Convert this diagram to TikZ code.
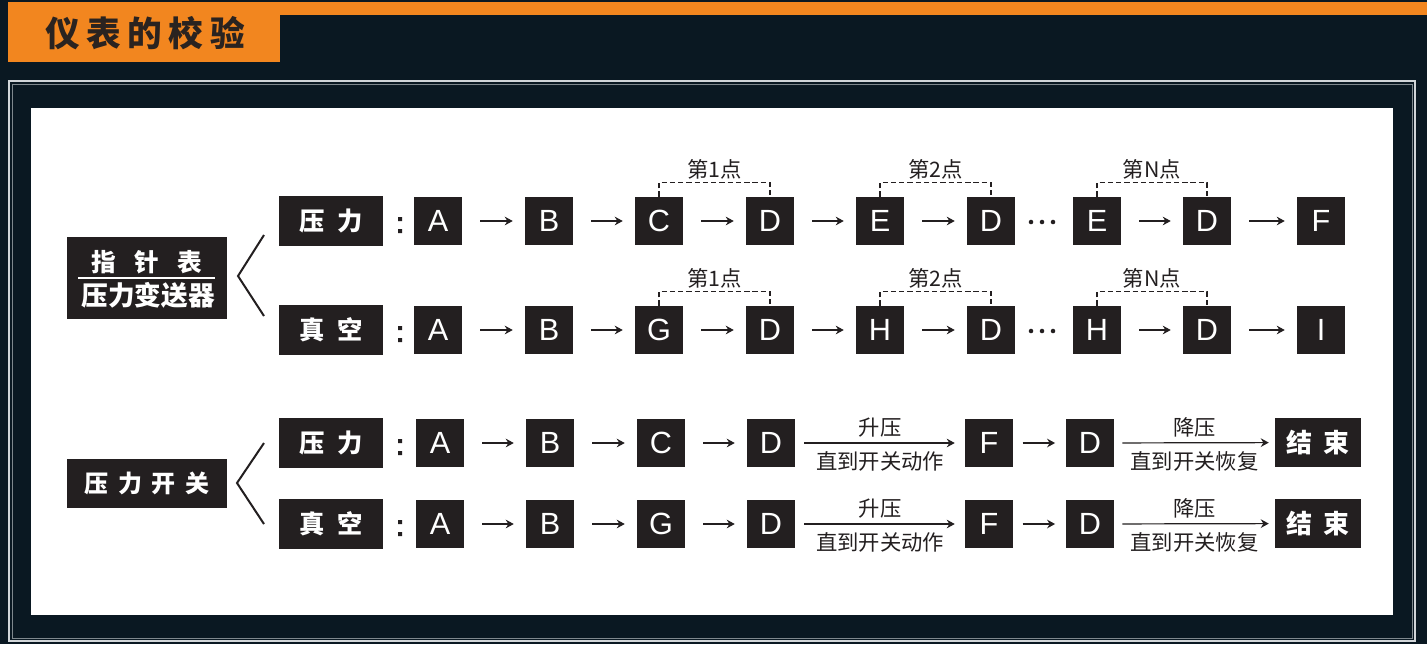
\documentclass[tikz,border=0pt]{standalone}
\usepackage{fontspec}
\setmainfont{Liberation Sans}
\newfontfamily\cjk{Noto Sans CJK SC}
\usetikzlibrary{arrows.meta}
\definecolor{bgc}{HTML}{0A1822}
\definecolor{org}{HTML}{F2861F}
\definecolor{boxc}{HTML}{231F20}
\definecolor{frm}{HTML}{D2D6D9}
\definecolor{frm2}{HTML}{7F888E}
\definecolor{ttl}{HTML}{2A2320}
\tikzset{
  box/.style={fill=boxc,text=white,minimum width=36pt,minimum height=36pt,inner sep=0pt,font=\fontsize{23}{23}\selectfont},
  lab/.style={fill=boxc,text=white,minimum width=78pt,minimum height=37pt,inner sep=0pt,font=\cjk\bfseries\fontsize{19}{19}\selectfont},
  finbox/.style={fill=boxc,text=white,minimum width=64.5pt,minimum height=36.75pt,inner sep=0pt,font=\cjk\bfseries\fontsize{19.5}{19.5}\selectfont},
  arr/.style={draw=boxc,line width=0.9pt,-{Stealth[length=6pt,width=6.5pt,inset=2pt]},shorten <=13.5pt,shorten >=9pt},
  lg/.style={draw=boxc,line width=0.9pt,-{Stealth[length=6pt,width=6.5pt,inset=2pt]}},
  dsh/.style={draw=boxc,line width=0.9pt,dash pattern=on 4pt off 2.2pt},
  sm/.style={font=\cjk\fontsize{16}{16}\selectfont,text=boxc,inner sep=1pt},
  brk/.style={draw=boxc,line width=1.5pt},
}
\newcommand{\mycolon}[2]{\fill[boxc] (#1-2,#2-4) rectangle (#1+2,#2) (#1-2,#2+8) rectangle (#1+2,#2+12);}
\begin{document}
\begin{tikzpicture}[x=0.75pt,y=-0.75pt]
\useasboundingbox (0,0) rectangle (1427,644);
\fill[bgc] (0,0) rectangle (1427,644);
% header
\fill[org] (280,2) rectangle (1427,15);
\fill[org] (8,2) rectangle (280,62);
\node[font=\cjk\bfseries\fontsize{26}{26}\selectfont,text=ttl] (title) at (145,33) {仪\hspace{5pt}表\hspace{5pt}的\hspace{5pt}校\hspace{5pt}验};
% frame
\draw[frm,line width=1.3pt] (9,81) rectangle (1415,641);
\draw[frm2,line width=0.7pt] (12,84) rectangle (1412,638);
\fill[white] (31,108) rectangle (1393,615);

% left group 1
\node[fill=boxc,minimum width=120pt,minimum height=61.5pt,inner sep=0pt] (g1) at (147,278) {};
\node[text=white,font=\cjk\bfseries\fontsize{18.5}{18.5}\selectfont,inner sep=0pt] (g1t) at (147,262) {指\hspace{0.75em}针\hspace{0.75em}表};
\node[text=white,font=\cjk\bfseries\fontsize{20}{20}\selectfont,inner sep=0pt] (g1b) at (148,295) {压力变送器};
\draw[white,line width=1.5pt] (78,278) -- (215,278);
\draw[brk] (264,235) -- (238,276) -- (264,316);

% left group 2
\node[fill=boxc,text=white,minimum width=120pt,minimum height=36.75pt,inner sep=0pt,font=\cjk\bfseries\fontsize{18}{18}\selectfont] (g2) at (147,483.5) {压\hspace{0.4em}力\hspace{0.4em}开\hspace{0.4em}关};
\draw[brk] (264,443) -- (237,483) -- (264,524);

% row 1: pressure
\node[lab] (p1) at (331,221) {压\hspace{0.5em}力};
\mycolon{400}{221}
\foreach \l/\x [count=\i] in {A/438,B/549,C/659,D/770,E/880,D/991,E/1097,D/1207,F/1321}
  \node[box] (a\i) at (\x,221) {\l};
\foreach \i/\j in {1/2,2/3,3/4,4/5,5/6,7/8,8/9}
  \draw[arr] (a\i) -- (a\j);
\foreach \x in {1031,1042,1053} \fill[boxc] (\x,222) circle[radius=1.7pt];
\draw[dsh] (a3.north) -- ++(0,-14) -- node[sm,above,yshift=1pt]{第1点} ([yshift=10.5pt]a4.north) -- (a4.north);
\draw[dsh] (a5.north) -- ++(0,-14) -- node[sm,above,yshift=1pt]{第2点} ([yshift=10.5pt]a6.north) -- (a6.north);
\draw[dsh] (a7.north) -- ++(0,-14) -- node[sm,above,yshift=1pt]{第N点} ([yshift=10.5pt]a8.north) -- (a8.north);

% row 2: vacuum
\node[lab] (p2) at (331,330) {真\hspace{0.5em}空};
\mycolon{400}{330}
\foreach \l/\x [count=\i] in {A/438,B/549,G/659,D/770,H/880,D/991,H/1097,D/1207,I/1321}
  \node[box] (b\i) at (\x,330) {\l};
\foreach \i/\j in {1/2,2/3,3/4,4/5,5/6,7/8,8/9}
  \draw[arr] (b\i) -- (b\j);
\foreach \x in {1031,1042,1053} \fill[boxc] (\x,331) circle[radius=1.7pt];
\draw[dsh] (b3.north) -- ++(0,-14) -- node[sm,above,yshift=1pt]{第1点} ([yshift=10.5pt]b4.north) -- (b4.north);
\draw[dsh] (b5.north) -- ++(0,-14) -- node[sm,above,yshift=1pt]{第2点} ([yshift=10.5pt]b6.north) -- (b6.north);
\draw[dsh] (b7.north) -- ++(0,-14) -- node[sm,above,yshift=1pt]{第N点} ([yshift=10.5pt]b8.north) -- (b8.north);

% row 3: switch pressure
\node[lab] (p3) at (331,443) {压\hspace{0.5em}力};
\mycolon{400}{443}
\foreach \l/\x [count=\i] in {A/440,B/550,C/661,D/771,F/989,D/1090}
  \node[box] (c\i) at (\x,443) {\l};
\node[finbox] (c7) at (1318,442.5) {结\hspace{0.4em}束};
\foreach \i/\j in {1/2,2/3,3/4}
  \draw[arr] (c\i) -- (c\j);
\draw[arr,shorten <=7pt,shorten >=8pt] (c5) -- (c6);
\draw[lg,shorten <=6.75pt,shorten >=7.5pt] (c4) -- node[sm,above=3pt]{升压} node[sm,below=5pt]{直到开关动作} (c5);
\draw[lg,shorten <=6pt,shorten >=4.5pt] (c6) -- node[sm,above=3pt]{降压} node[sm,below=5pt]{直到开关恢复} (c7);

% row 4: switch vacuum
\node[lab] (p4) at (331,524) {真\hspace{0.5em}空};
\mycolon{400}{524}
\foreach \l/\x [count=\i] in {A/440,B/550,G/661,D/771,F/989,D/1090}
  \node[box] (d\i) at (\x,524) {\l};
\node[finbox] (d7) at (1318,523.5) {结\hspace{0.4em}束};
\foreach \i/\j in {1/2,2/3,3/4}
  \draw[arr] (d\i) -- (d\j);
\draw[arr,shorten <=7pt,shorten >=8pt] (d5) -- (d6);
\draw[lg,shorten <=6.75pt,shorten >=7.5pt] (d4) -- node[sm,above=3pt]{升压} node[sm,below=5pt]{直到开关动作} (d5);
\draw[lg,shorten <=6pt,shorten >=4.5pt] (d6) -- node[sm,above=3pt]{降压} node[sm,below=5pt]{直到开关恢复} (d7);
\end{tikzpicture}
\end{document}
